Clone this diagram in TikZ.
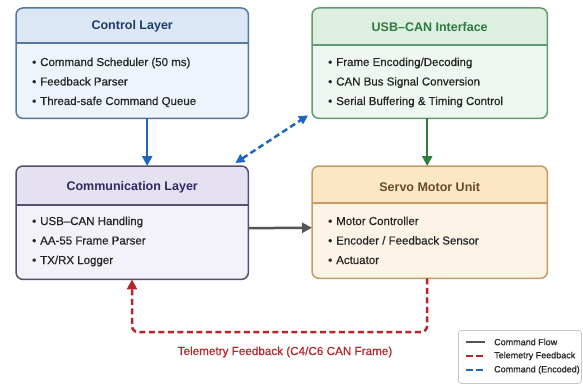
\documentclass[tikz,border=0pt]{standalone}
\usepackage{fontspec}
\setmainfont{Liberation Sans}
\usetikzlibrary{arrows.meta}
\definecolor{ctrlB}{HTML}{56779F}
\definecolor{ctrlH}{HTML}{DCE7F6}
\definecolor{ctrlF}{HTML}{EEF4FB}
\definecolor{ctrlT}{HTML}{1F3A68}
\definecolor{usbB}{HTML}{619C70}
\definecolor{usbH}{HTML}{DDEFE0}
\definecolor{usbF}{HTML}{EFF7F1}
\definecolor{usbT}{HTML}{2E7A3E}
\definecolor{comB}{HTML}{505070}
\definecolor{comH}{HTML}{E5E1F1}
\definecolor{comF}{HTML}{F4F2F9}
\definecolor{comT}{HTML}{2E2A63}
\definecolor{srvB}{HTML}{C99A62}
\definecolor{srvH}{HTML}{FBE6C6}
\definecolor{srvF}{HTML}{FDF4E7}
\definecolor{srvT}{HTML}{6B4A2C}
\definecolor{arrBlue}{HTML}{1F66C1}
\definecolor{arrGreen}{HTML}{2E7D3E}
\definecolor{arrGray}{HTML}{555555}
\definecolor{arrRed}{HTML}{B3262B}
\definecolor{txt}{HTML}{262626}
\tikzset{
  frame/.style={minimum width=232pt, inner sep=0pt, anchor=north west},
  ttl/.style={font=\fontsize{12.5}{14}\selectfont\bfseries, inner sep=0pt},
  itemlist/.style={font=\fontsize{11.5}{19.5}\selectfont\addfontfeature{FakeBold=0.6}, text=txt, align=left, inner sep=0pt, anchor=base west},
  tip/.style={-{Triangle[length=10pt,width=10pt]}},
  flow/.style={line width=2.5pt},
  dsh/.style={line width=2.5pt, dash pattern=on 6pt off 3.5pt},
  legtxt/.style={font=\fontsize{9}{10}\selectfont\addfontfeature{FakeBold=0.6}, text=txt, inner sep=0pt, anchor=west}
}
\newcommand{\bul}{\textbullet\hspace{4pt}}
\begin{document}
\begin{tikzpicture}[x=1pt,y=-1pt]
\fill[white] (0,0) rectangle (583,385);
\useasboundingbox (0,0) rectangle (583,385);

% ---- Control Layer
\node[frame, minimum height=110pt] (ctrl) at (16,8) {};
\begin{scope}
\clip[rounded corners=7pt] (ctrl.north west) rectangle (ctrl.south east);
\fill[ctrlF] (ctrl.north west) rectangle (ctrl.south east);
\fill[ctrlH] (ctrl.north west) rectangle ([yshift=-35pt]ctrl.north east);
\end{scope}
\draw[ctrlB, line width=1.3pt] ([yshift=-35pt]ctrl.north west) -- ([yshift=-35pt]ctrl.north east);
\draw[ctrlB, line width=1.5pt, rounded corners=7pt] (ctrl.north west) rectangle (ctrl.south east);
\node[ttl, text=ctrlT] (ctrlt) at ([yshift=-18pt]ctrl.north) {Control Layer};
\node[itemlist] (ctrli) at ([xshift=16pt, yshift=-97pt]ctrl.north west)
  {\bul Command Scheduler (50 ms)\\\bul Feedback Parser\\\bul Thread-safe Command Queue};

% ---- USB-CAN Interface
\node[frame, minimum width=235pt, minimum height=110pt] (usb) at (312,8) {};
\begin{scope}
\clip[rounded corners=7pt] (usb.north west) rectangle (usb.south east);
\fill[usbF] (usb.north west) rectangle (usb.south east);
\fill[usbH] (usb.north west) rectangle ([yshift=-37pt]usb.north east);
\end{scope}
\draw[usbB, line width=1.3pt] ([yshift=-37pt]usb.north west) -- ([yshift=-37pt]usb.north east);
\draw[usbB, line width=1.5pt, rounded corners=7pt] (usb.north west) rectangle (usb.south east);
\node[ttl, text=usbT] (usbt) at ([yshift=-19pt]usb.north) {USB–CAN Interface};
\node[itemlist] (usbi) at ([xshift=16pt, yshift=-97pt]usb.north west)
  {\bul Frame Encoding/Decoding\\\bul CAN Bus Signal Conversion\\\bul Serial Buffering \& Timing Control};

% ---- Communication Layer
\node[frame, minimum height=113pt] (comm) at (16,166) {};
\begin{scope}
\clip[rounded corners=7pt] (comm.north west) rectangle (comm.south east);
\fill[comF] (comm.north west) rectangle (comm.south east);
\fill[comH] (comm.north west) rectangle ([yshift=-39pt]comm.north east);
\end{scope}
\draw[comB, line width=1.3pt] ([yshift=-39pt]comm.north west) -- ([yshift=-39pt]comm.north east);
\draw[comB, line width=1.5pt, rounded corners=7pt] (comm.north west) rectangle (comm.south east);
\node[ttl, text=comT] (commt) at ([yshift=-21pt]comm.north) {Communication Layer};
\node[itemlist] (commi) at ([xshift=16pt, yshift=-98pt]comm.north west)
  {\bul USB–CAN Handling\\\bul AA-55 Frame Parser\\\bul TX/RX Logger};

% ---- Servo Motor Unit
\node[frame, minimum width=235pt, minimum height=112pt] (srv) at (312,166) {};
\begin{scope}
\clip[rounded corners=7pt] (srv.north west) rectangle (srv.south east);
\fill[srvF] (srv.north west) rectangle (srv.south east);
\fill[srvH] (srv.north west) rectangle ([yshift=-37pt]srv.north east);
\end{scope}
\draw[srvB, line width=1.3pt] ([yshift=-37pt]srv.north west) -- ([yshift=-37pt]srv.north east);
\draw[srvB, line width=1.5pt, rounded corners=7pt] (srv.north west) rectangle (srv.south east);
\node[ttl, text=srvT] (srvt) at ([yshift=-21pt]srv.north) {Servo Motor Unit};
\node[itemlist] (srvi) at ([xshift=16pt, yshift=-98pt]srv.north west)
  {\bul Motor Controller\\\bul Encoder / Feedback Sensor\\\bul Actuator};

% ---- Connectors
\draw[flow, tip, arrBlue] ([xshift=15pt]ctrl.south) -- ([xshift=15pt]comm.north);
\draw[flow, tip, arrGreen] ([xshift=-2.5pt]usb.south) -- ([xshift=-2.5pt]srv.north);
\draw[flow, tip, arrGray] ([yshift=-5.5pt]comm.east) -- ([yshift=-5.5pt]srv.west);
\draw[dsh, arrBlue, {Triangle[length=9pt,width=9pt]}-{Triangle[length=9pt,width=9pt]}]
  ([xshift=-13pt,yshift=3pt]comm.north east) -- ([xshift=-4pt,yshift=3pt]usb.south west);
\coordinate (fbR) at (427,332);
\coordinate (fbL) at (132,332);
\draw[dsh, arrRed, rounded corners=6pt, tip]
  ([xshift=-2.5pt]srv.south) -- (fbR) -- (fbL) -- (comm.south -| fbL);
\node[text=arrRed, font=\fontsize{11.7}{13}\selectfont\addfontfeature{FakeBold=0.5}, inner sep=0pt] (fblbl) at (285,352)
  {Telemetry Feedback (C4/C6 CAN Frame)};

% ---- Legend
\node[draw=black!22, fill=white, rounded corners=3pt, line width=0.8pt, minimum width=123pt, minimum height=53pt, inner sep=0pt, anchor=north west] (leg) at (458,330) {};
\coordinate (l1a) at (466,342); \coordinate (l1b) at (485,342);
\coordinate (l2a) at (466,356); \coordinate (l2b) at (485,356);
\coordinate (l3a) at (466,370); \coordinate (l3b) at (485,370);
\draw[arrGray, line width=2pt] (l1a) -- (l1b);
\draw[arrRed, line width=2pt, dash pattern=on 7pt off 3pt] (l2a) -- (l2b);
\draw[arrBlue, line width=2pt, dash pattern=on 7pt off 3pt] (l3a) -- (l3b);
\node[legtxt] (lg1) at (494,342) {Command Flow};
\node[legtxt] (lg2) at (494,356) {Telemetry Feedback};
\node[legtxt] (lg3) at (494,370) {Command (Encoded)};
\end{tikzpicture}
\end{document}
